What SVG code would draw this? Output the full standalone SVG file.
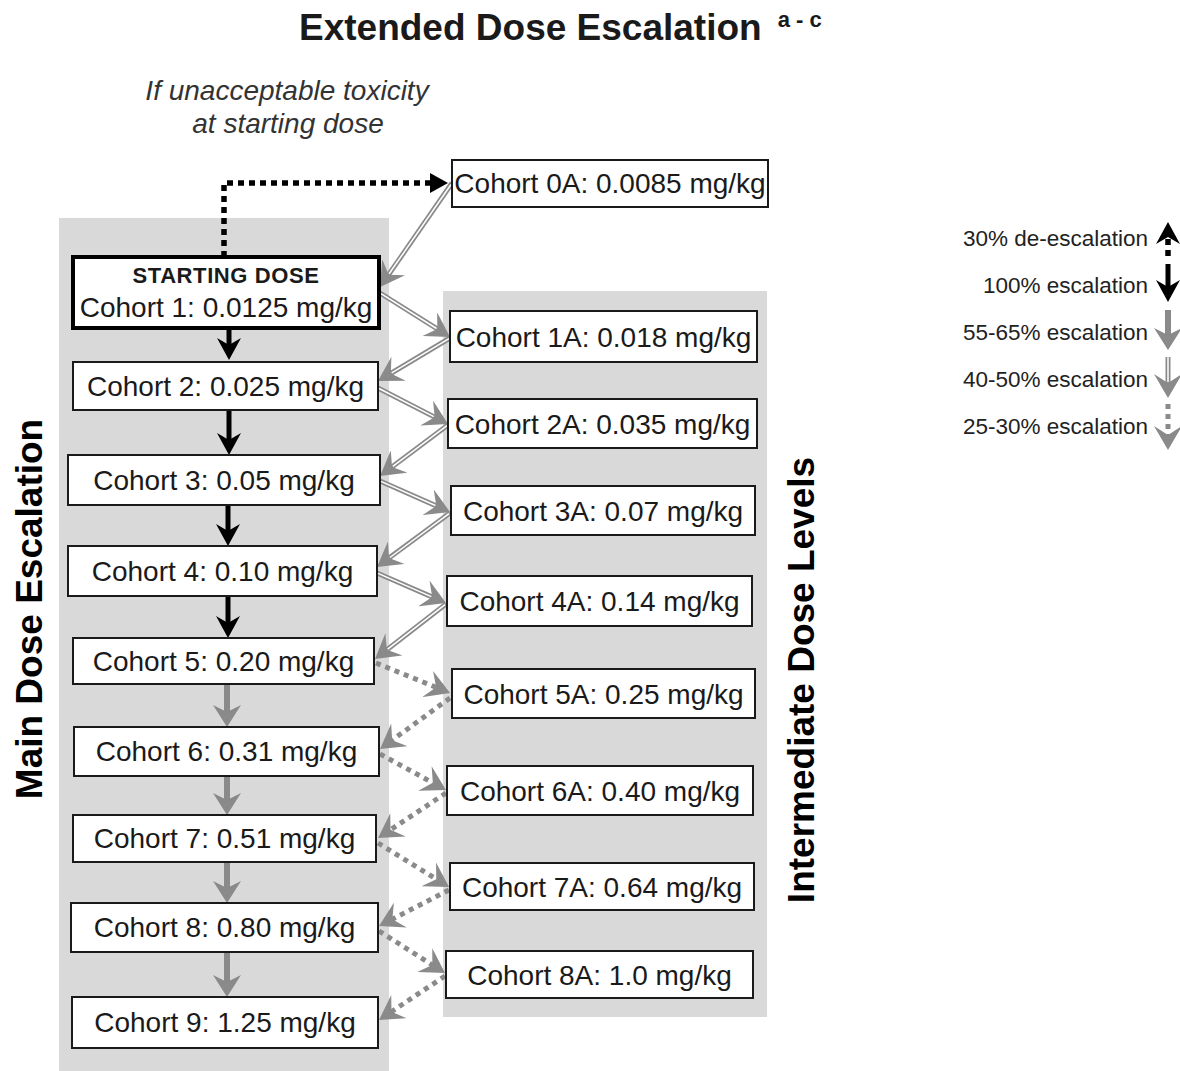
<svg xmlns="http://www.w3.org/2000/svg" width="1180" height="1071" viewBox="0 0 1180 1071">
<defs>
<style>
.panel{fill:#d9d9d9}
.box{fill:#fff;stroke:#1a1a1a;stroke-width:2}
.box1{fill:#fff;stroke:#000;stroke-width:4}
.t{font-family:"Liberation Sans",Arial,sans-serif;font-size:28px;fill:#1a1a1a;text-anchor:middle}
.sd{font-family:"Liberation Sans",Arial,sans-serif;font-size:22px;font-weight:bold;fill:#1a1a1a;text-anchor:middle;letter-spacing:0.6px}
.lg{font-family:"Liberation Sans",Arial,sans-serif;font-size:22.5px;fill:#222;text-anchor:end}
.vl{font-family:"Liberation Sans",Arial,sans-serif;font-size:37px;font-weight:bold;fill:#000;text-anchor:middle}
.it{font-family:"Liberation Sans",Arial,sans-serif;font-size:28px;font-style:italic;fill:#333;text-anchor:middle}
.blk{fill:none;stroke:#000;stroke-width:5;marker-end:url(#hb)}
.gry{fill:none;stroke:#8a8a8a;stroke-width:6;marker-end:url(#hg)}
.dbl{fill:none;stroke:#8a8a8a;stroke-width:5;marker-end:url(#hc)}
.dblw{fill:none;stroke:#fff;stroke-width:1.5}
.dot{fill:none;stroke:#8a8a8a;stroke-width:5;stroke-dasharray:5 5;marker-end:url(#hc)}
.deesc{fill:none;stroke:#000;stroke-width:5.5;stroke-dasharray:6 5}
</style>
<marker id="hb" markerUnits="userSpaceOnUse" markerWidth="22" markerHeight="24" viewBox="0 0 22 24" refX="12" refY="12" orient="auto"><path d="M0,0 L22,12 L0,24 L7,12 Z" fill="#000"/></marker>
<marker id="hg" markerUnits="userSpaceOnUse" markerWidth="22" markerHeight="28" viewBox="0 0 22 28" refX="12" refY="14" orient="auto"><path d="M0,0 L22,14 L0,28 L7,14 Z" fill="#8a8a8a"/></marker>
<marker id="hc" markerUnits="userSpaceOnUse" markerWidth="24" markerHeight="28" viewBox="0 0 24 28" refX="15" refY="14" orient="auto"><path d="M0,0 L24,14 L0,28 L9,14 Z" fill="#8a8a8a"/></marker>
<marker id="ht" markerUnits="userSpaceOnUse" markerWidth="18" markerHeight="20" viewBox="0 0 18 20" refX="10" refY="10" orient="auto"><path d="M0,0 L18,10 L0,20 Z" fill="#000"/></marker>
</defs>
<rect width="1180" height="1071" fill="#fff"/>

<text x="299" y="40" font-family="Liberation Sans,Arial,sans-serif" font-size="37" font-weight="bold" fill="#1a1a1a">Extended Dose Escalation<tspan font-size="22" dx="16" dy="-13">a - c</tspan></text>
<text class="it" x="287" y="100">If unacceptable toxicity</text>
<text class="it" x="288" y="133">at starting dose</text>

<rect class="panel" x="59" y="218" width="330" height="853"/>
<rect class="panel" x="443" y="291" width="324" height="726"/>

<text class="vl" transform="translate(42,609) rotate(-90)">Main Dose Escalation</text>
<text class="vl" transform="translate(814,680) rotate(-90)">Intermediate Dose Levels</text>

<g id="connectors">
<path class="deesc" d="M224,257 V183 H440" marker-end="url(#ht)"/>
<path class="blk" d="M229,328 V350"/>
<path class="blk" d="M229,410 V445"/>
<path class="blk" d="M228,505 V536"/>
<path class="blk" d="M228,596 V628"/>
<path class="gry" d="M227,684 V717"/>
<path class="gry" d="M227,776 V805"/>
<path class="gry" d="M227,862 V893"/>
<path class="gry" d="M227,952 V987"/>

<path class="dbl" d="M452,183 L385.2,279.6"/><path class="dblw" d="M451,184.5 L389.1,273.8"/>
<path class="dbl" d="M380,293 L442.4,332.2"/><path class="dblw" d="M381,293.6 L436.5,328.5"/>
<path class="dbl" d="M450,338 L385.7,376.5"/><path class="dblw" d="M449,338.6 L391.7,372.8"/>
<path class="dbl" d="M378,388 L440,419.9"/><path class="dblw" d="M379,388.5 L433.8,416.7"/>
<path class="dbl" d="M448,425 L387.2,470.6"/><path class="dblw" d="M447,425.7 L392.8,466.4"/>
<path class="dbl" d="M380,481 L441.8,508.4"/><path class="dblw" d="M381,481.4 L435.4,505.5"/>
<path class="dbl" d="M450,513 L384.2,561.6"/><path class="dblw" d="M449,513.7 L389.9,557.5"/>
<path class="dbl" d="M377,573 L437.7,599.4"/><path class="dblw" d="M378,573.4 L431.3,596.6"/>
<path class="dbl" d="M446,604 L382.1,653.5"/><path class="dblw" d="M445,604.7 L387.7,649.2"/>

<path class="dot" d="M376,663 L441.7,689.6"/>
<path class="dot" d="M450,698 L387.3,743.7"/>
<path class="dot" d="M380,754 L438.1,785.7"/>
<path class="dot" d="M446,793 L385.5,833.1"/>
<path class="dot" d="M378,843 L441.4,882.3"/>
<path class="dot" d="M449,890 L387,921.9"/>
<path class="dot" d="M379,931 L437.4,968.2"/>
<path class="dot" d="M445,976 L386.5,1015"/>
</g>

<g id="cohort1"><rect class="box1" x="73" y="257" width="306" height="71"/><text class="sd" x="226" y="283">STARTING DOSE</text><text class="t" x="226" y="317">Cohort 1: 0.0125 mg/kg</text></g>
<g id="cohort2"><rect class="box" x="73" y="362" width="305" height="48"/><text class="t" x="225.5" y="396">Cohort 2: 0.025 mg/kg</text></g>
<g id="cohort3"><rect class="box" x="68" y="455" width="312" height="50"/><text class="t" x="224" y="490">Cohort 3: 0.05 mg/kg</text></g>
<g id="cohort4"><rect class="box" x="68" y="546" width="309" height="50"/><text class="t" x="222.5" y="581">Cohort 4: 0.10 mg/kg</text></g>
<g id="cohort5"><rect class="box" x="73" y="638" width="301" height="46"/><text class="t" x="223.5" y="671">Cohort 5: 0.20 mg/kg</text></g>
<g id="cohort6"><rect class="box" x="74" y="727" width="305" height="49"/><text class="t" x="226.5" y="761">Cohort 6: 0.31 mg/kg</text></g>
<g id="cohort7"><rect class="box" x="73" y="815" width="303" height="47"/><text class="t" x="224.5" y="848">Cohort 7: 0.51 mg/kg</text></g>
<g id="cohort8"><rect class="box" x="71" y="903" width="307" height="49"/><text class="t" x="224.5" y="937">Cohort 8: 0.80 mg/kg</text></g>
<g id="cohort9"><rect class="box" x="72" y="997" width="306" height="51"/><text class="t" x="225" y="1032">Cohort 9: 1.25 mg/kg</text></g>

<g id="cohort0A"><rect class="box" x="452" y="160" width="316" height="47"/><text class="t" x="610" y="193">Cohort 0A: 0.0085 mg/kg</text></g>
<g id="cohort1A"><rect class="box" x="450" y="311" width="307" height="51"/><text class="t" x="603.5" y="347">Cohort 1A: 0.018 mg/kg</text></g>
<g id="cohort2A"><rect class="box" x="448" y="399" width="309" height="49"/><text class="t" x="602.5" y="434">Cohort 2A: 0.035 mg/kg</text></g>
<g id="cohort3A"><rect class="box" x="451" y="486" width="304" height="49"/><text class="t" x="603" y="521">Cohort 3A: 0.07 mg/kg</text></g>
<g id="cohort4A"><rect class="box" x="447" y="576" width="305" height="50"/><text class="t" x="599.5" y="611">Cohort 4A: 0.14 mg/kg</text></g>
<g id="cohort5A"><rect class="box" x="452" y="669" width="303" height="49"/><text class="t" x="603.5" y="704">Cohort 5A: 0.25 mg/kg</text></g>
<g id="cohort6A"><rect class="box" x="447" y="766" width="306" height="49"/><text class="t" x="600" y="801">Cohort 6A: 0.40 mg/kg</text></g>
<g id="cohort7A"><rect class="box" x="450" y="863" width="304" height="47"/><text class="t" x="602" y="897">Cohort 7A: 0.64 mg/kg</text></g>
<g id="cohort8A"><rect class="box" x="446" y="951" width="307" height="47"/><text class="t" x="599.5" y="985">Cohort 8A: 1.0 mg/kg</text></g>

<g id="legend">
<text class="lg" x="1148" y="246">30% de-escalation</text>
<text class="lg" x="1148" y="293">100% escalation</text>
<text class="lg" x="1148" y="340">55-65% escalation</text>
<text class="lg" x="1148" y="387">40-50% escalation</text>
<text class="lg" x="1148" y="434">25-30% escalation</text>
<path class="deesc" d="M1168,256 V232" marker-end="url(#hb)" stroke-dasharray="5 4"/>
<path class="blk" d="M1168,264 V292"/>
<path class="gry" d="M1168,310 V340"/>
<path class="dbl" d="M1168,357 V389"/><path class="dblw" d="M1168,357 V382"/>
<path class="dot" d="M1168,404 V441"/>
</g>
</svg>
